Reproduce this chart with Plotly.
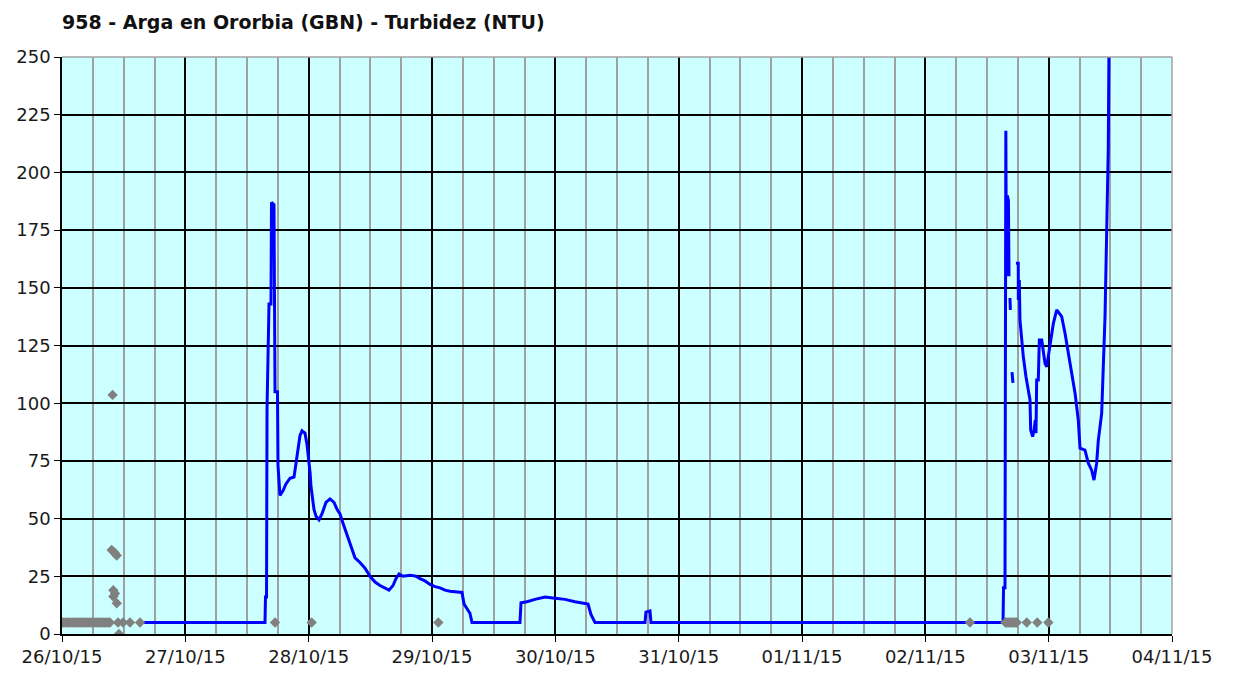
import plotly.graph_objects as go

title_text = "958 - Arga en Ororbia (GBN) - Turbidez (NTU)"

# Valid turbidity series (blue line); None marks gaps in the record
line_time = [
    "2015-10-26 15:00", "2015-10-27 15:30", "2015-10-27 15:36", "2015-10-27 15:48", "2015-10-27 15:54",
    "2015-10-27 16:05", "2015-10-27 16:17", "2015-10-27 16:40", "2015-10-27 16:46", "2015-10-27 17:15",
    "2015-10-27 17:21", "2015-10-27 17:27", "2015-10-27 17:56", "2015-10-27 18:02", "2015-10-27 18:25",
    "2015-10-27 19:00", "2015-10-27 19:35", "2015-10-27 20:22", "2015-10-27 21:09", "2015-10-27 21:44",
    "2015-10-27 22:19", "2015-10-27 22:42", "2015-10-27 23:17", "2015-10-27 23:41", "2015-10-28 00:04",
    "2015-10-28 00:16", "2015-10-28 00:27", "2015-10-28 00:50", "2015-10-28 01:02", "2015-10-28 01:26",
    "2015-10-28 02:01", "2015-10-28 02:35", "2015-10-28 03:22", "2015-10-28 04:09", "2015-10-28 04:56",
    "2015-10-28 05:31", "2015-10-28 06:06", "2015-10-28 06:41", "2015-10-28 07:16", "2015-10-28 07:51",
    "2015-10-28 08:26", "2015-10-28 09:01", "2015-10-28 09:59", "2015-10-28 10:58", "2015-10-28 11:56",
    "2015-10-28 12:55", "2015-10-28 13:53", "2015-10-28 14:51", "2015-10-28 15:38", "2015-10-28 16:25",
    "2015-10-28 16:59", "2015-10-28 17:35", "2015-10-28 18:22", "2015-10-28 19:43", "2015-10-28 20:53",
    "2015-10-28 21:40", "2015-10-28 22:38", "2015-10-28 23:37", "2015-10-29 00:35", "2015-10-29 01:34",
    "2015-10-29 02:32", "2015-10-29 03:30", "2015-10-29 05:50", "2015-10-29 06:14", "2015-10-29 06:49",
    "2015-10-29 07:23", "2015-10-29 07:47", "2015-10-29 17:07", "2015-10-29 17:19", "2015-10-29 18:29",
    "2015-10-29 20:02", "2015-10-29 21:59", "2015-10-29 23:56", "2015-10-30 01:53", "2015-10-30 03:50",
    "2015-10-30 05:46", "2015-10-30 06:22", "2015-10-30 06:56", "2015-10-30 07:43", "2015-10-30 17:27",
    "2015-10-30 17:38", "2015-10-30 18:25", "2015-10-30 18:37", "2015-11-02 15:07", "2015-11-02 15:13",
    "2015-11-02 15:30", "2015-11-02 15:32", "2015-11-02 15:40", "2015-11-02 15:44", "2015-11-02 15:49",
    "2015-11-02 15:56", "2015-11-02 16:10", "2015-11-02 16:17", "2015-11-02 16:22", "2015-11-02 16:28",
    "2015-11-02 16:33", "2015-11-02 16:45", "2015-11-02 16:52", "2015-11-02 17:03", "2015-11-02 17:20",
    "2015-11-02 17:38", "2015-11-02 18:05", "2015-11-02 18:06", "2015-11-02 18:17", "2015-11-02 18:25",
    "2015-11-02 18:45", "2015-11-02 19:04", "2015-11-02 19:35", "2015-11-02 20:02", "2015-11-02 20:22",
    "2015-11-02 20:30", "2015-11-02 20:53", "2015-11-02 21:09", "2015-11-02 21:24", "2015-11-02 21:32",
    "2015-11-02 21:40", "2015-11-02 21:59", "2015-11-02 22:11", "2015-11-02 22:39", "2015-11-02 22:58",
    "2015-11-02 23:17", "2015-11-02 23:37", "2015-11-02 23:56", "2015-11-03 00:08", "2015-11-03 00:55",
    "2015-11-03 01:34", "2015-11-03 02:32", "2015-11-03 03:11", "2015-11-03 03:49", "2015-11-03 04:29",
    "2015-11-03 05:08", "2015-11-03 05:46", "2015-11-03 06:06", "2015-11-03 07:04", "2015-11-03 07:43",
    "2015-11-03 08:22", "2015-11-03 08:49", "2015-11-03 09:20", "2015-11-03 09:40", "2015-11-03 10:19",
    "2015-11-03 10:38", "2015-11-03 10:58", "2015-11-03 11:17", "2015-11-03 11:36", "2015-11-03 11:44",
]
line_ntu = [
    5, 5, 16, 16, 98,
    118, 143, 143, 187, 186,
    143, 105, 105, 73, 60,
    62, 65, 67.5, 68, 77,
    86, 88, 87, 82, 75,
    70, 64, 58, 54, 51,
    49.5, 52, 57, 58.5, 57,
    54, 52, 48, 44, 40,
    36, 33, 31, 28.5, 25,
    22.5, 21, 20, 19, 21,
    24, 26, 25, 25.5, 25,
    24, 23, 21.5, 20.5, 20,
    19, 18.5, 18, 13, 11,
    9, 5, 5, 13.5, 14,
    15, 16, 15.5, 15, 14,
    13, 13, 8.5, 5, 5,
    9.5, 10, 5, 5, 20,
    20, 218, 218, 178, 155,
    190, 188, 155, None, 145.6,
    140.4, None, 113.5, 108.8, None,
    160.6, 160.6, 144.7, 153.4, 136,
    127.4, 120.2, 111.5, 105.7, 101.4,
    88.4, 85.5, 88.4, 92.7, 87,
    110, 110, 127.4, 127.4, 121.6,
    117.3, 115.8, 120.2, 124.5, 134.6,
    140.4, 137.5, 130.3, 121.6, 112.9,
    104.3, 92.7, 80.5, 79.7, 74,
    71, 66.7, 74, 84, 95.6,
    113, 137.5, 173.6, 210.4, 253,
]

# Non-validated readings (grey diamonds)
gray_time = [
    "2015-10-26 00:00", "2015-10-26 00:20", "2015-10-26 00:40", "2015-10-26 01:00", "2015-10-26 01:20",
    "2015-10-26 01:40", "2015-10-26 02:00", "2015-10-26 02:20", "2015-10-26 02:40", "2015-10-26 03:00",
    "2015-10-26 03:20", "2015-10-26 03:40", "2015-10-26 04:00", "2015-10-26 04:20", "2015-10-26 04:40",
    "2015-10-26 05:00", "2015-10-26 05:20", "2015-10-26 05:40", "2015-10-26 06:00", "2015-10-26 06:20",
    "2015-10-26 06:40", "2015-10-26 07:00", "2015-10-26 07:20", "2015-10-26 07:40", "2015-10-26 08:00",
    "2015-10-26 08:20", "2015-10-26 08:40", "2015-10-26 09:00", "2015-10-26 09:20",
    "2015-10-26 09:40", "2015-10-26 09:51", "2015-10-26 09:59", "2015-10-26 10:19", "2015-10-26 10:39",
    "2015-10-26 09:59", "2015-10-26 10:19", "2015-10-26 10:00", "2015-10-26 10:39", "2015-10-26 11:05",
    "2015-10-26 10:54", "2015-10-26 11:52", "2015-10-26 13:14", "2015-10-26 15:11",
    "2015-10-27 17:27", "2015-10-28 00:35", "2015-10-29 01:14", "2015-11-02 08:41",
    "2015-11-02 15:35", "2015-11-02 15:50", "2015-11-02 16:05", "2015-11-02 16:20", "2015-11-02 16:35",
    "2015-11-02 16:50", "2015-11-02 17:05", "2015-11-02 17:20", "2015-11-02 17:35", "2015-11-02 17:46",
    "2015-11-02 19:44", "2015-11-02 21:47", "2015-11-02 23:56",
]
gray_ntu = [
    5, 5, 5, 5, 5,
    5, 5, 5, 5, 5,
    5, 5, 5, 5, 5,
    5, 5, 5, 5, 5,
    5, 5, 5, 5, 5,
    5, 5, 5, 5,
    36.4, 103.6, 35.7, 35, 34,
    19, 17.6, 16.2, 13.3, 0,
    5, 5, 5, 5,
    5, 5, 5, 5,
    5, 5, 5, 5, 5,
    5, 5, 5, 5, 5,
    5, 5, 5,
]

x_start = "2015-10-26 00:00"
x_end = "2015-11-04 00:00"
y_ticks = [0, 25, 50, 75, 100, 125, 150, 175, 200, 225, 250]

fig = go.Figure()
fig.add_trace(go.Scatter(
    x=line_time, y=line_ntu, mode="lines",
    line=dict(color="#0000ff", width=3),
    connectgaps=False, showlegend=False, hoverinfo="skip",
))
fig.add_trace(go.Scatter(
    x=gray_time, y=gray_ntu, mode="markers",
    marker=dict(symbol="diamond", size=8, color="#808080"),
    showlegend=False, hoverinfo="skip",
))

tick_font = dict(family="DejaVu Sans", size=18, color="#1a1a1a")

fig.update_layout(
    width=1233, height=675,
    margin=dict(l=62, r=61, t=57, b=41),
    paper_bgcolor="white",
    plot_bgcolor="#ccffff",
    title=dict(
        text=title_text, x=0, xref="paper", xanchor="left",
        y=1 - 22 / 675, yref="container", yanchor="middle",
        font=dict(family="DejaVu Sans", size=19, color="#111111", weight="bold"),
    ),
    xaxis=dict(
        type="date", range=[x_start, x_end], automargin=False,
        tick0=x_start, dtick=86400000, tickformat="%d/%m/%y",
        showgrid=True, gridcolor="#000000", gridwidth=1.5,
        minor=dict(dtick=6 * 3600000, tick0=x_start, showgrid=True,
                   gridcolor="#a0a0a0", gridwidth=1.5, ticks=""),
        showline=True, linecolor="#000000", linewidth=1.5,
        ticks="outside", ticklen=6, tickcolor="#000000", tickwidth=1.3,
        tickfont=tick_font, zeroline=False,
    ),
    yaxis=dict(
        range=[0, 250], tickvals=y_ticks, automargin=False,
        showgrid=True, gridcolor="#000000", gridwidth=1.5,
        showline=True, linecolor="#000000", linewidth=1.5,
        ticks="outside", ticklen=6, tickcolor="#000000", tickwidth=1.3,
        tickfont=tick_font, zeroline=False,
    ),
    shapes=[
        dict(type="line", xref="paper", yref="paper", x0=0, x1=1, y0=1, y1=1,
             line=dict(color="#a0a0a0", width=1.5), layer="above"),
        dict(type="line", xref="paper", yref="paper", x0=1, x1=1, y0=0, y1=1,
             line=dict(color="#a0a0a0", width=1.5), layer="above"),
    ],
)

# remove the browser's default 8px body margin so the figure sits at the page origin
fig.write_html(
    "out.html",
    config={"displayModeBar": False},
    post_script="document.body.style.margin='0px';document.body.style.overflow='hidden';",
)
